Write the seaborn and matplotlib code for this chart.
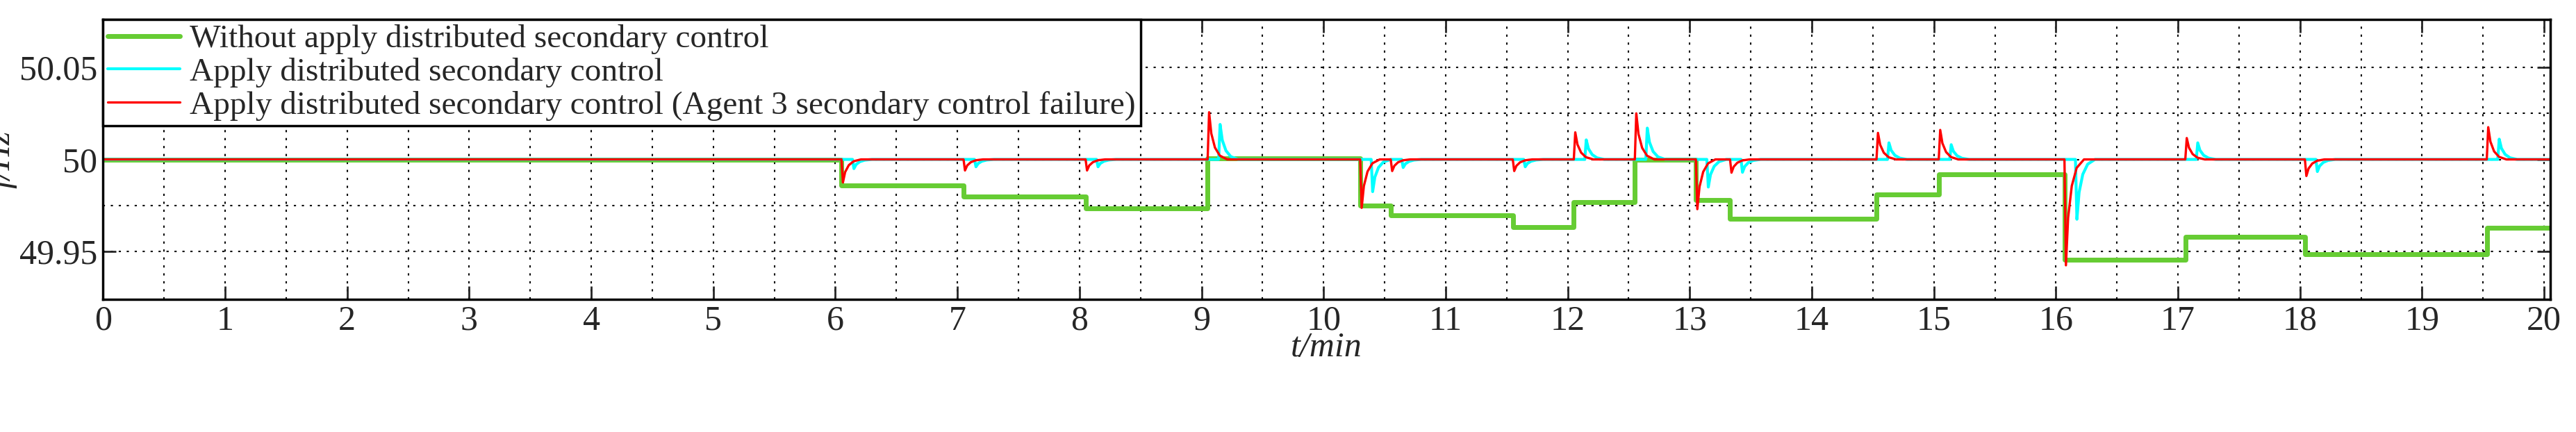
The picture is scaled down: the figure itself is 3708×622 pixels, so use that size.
import numpy as np
import pandas as pd
import matplotlib
matplotlib.use("Agg")
import matplotlib.pyplot as plt
import seaborn as sns
from matplotlib.ticker import MultipleLocator, FixedLocator

# green: step levels without secondary control
step_times = [0, 6.05, 7.05, 8.05, 9.05, 10.3, 10.55, 11.55, 12.05, 12.55,
              13.05, 13.33, 14.53, 15.04, 16.07, 17.06, 18.04, 19.53, 20.05]
step_levels = [50.0, 49.986, 49.980, 49.9735, 50.0007, 49.975, 49.9697, 49.9634,
               49.977, 50.0, 49.978, 49.9678, 49.981, 49.992, 49.9456, 49.958,
               49.9484, 49.963, 49.963]

# transient events for the controlled curves
event_times = [6.05, 7.05, 8.05, 9.05, 10.3, 10.55, 11.55, 12.05, 12.55,
               13.05, 13.33, 14.53, 15.04, 16.07, 17.06, 18.04, 19.53]
red_peaks = [49.9875, 49.994, 49.994, 50.0256, 49.9737, 49.9937, 49.9937, 50.0147,
             50.025, 49.973, 49.9928, 50.0144, 50.016, 49.9425, 50.0116, 49.991, 50.0175]
cyan_peaks = [49.995, 49.996, 49.996, 50.019, 49.9825, 49.9956, 49.996, 50.0106,
              50.017, 49.985, 49.993, 50.009, 50.008, 49.9675, 50.009, 49.9934, 50.011]
cyan_delay = 0.09

# transient profile (offset in min, fraction of peak deviation)
shape_dt = [0.0, 0.012, 0.03, 0.06, 0.1, 0.16]
shape_frac = [0.0, 1.0, 0.55, 0.25, 0.08, 0.0]

base = 50.0
t_end = 20.05


def transient_curve(peaks, delay):
    xs, ys = [0.0], [base]
    for t, p in zip(event_times, peaks):
        for dt, fr in zip(shape_dt, shape_frac):
            xs.append(t + delay + dt)
            ys.append(base + (p - base) * fr)
    xs.append(t_end)
    ys.append(base)
    return pd.DataFrame({"t": xs, "f": ys})


red_df = transient_curve(red_peaks, 0.0)
cyan_df = transient_curve(cyan_peaks, cyan_delay)
green_df = pd.DataFrame({"t": step_times, "f": step_levels})

sns.set_style("white")
plt.rcParams['font.family'] = ['Liberation Serif', 'DejaVu Serif']

fig = plt.figure(figsize=(37.08, 6.22), dpi=100)
ax = fig.add_axes([0.040, 0.307, 0.950, 0.648])

sns.lineplot(data=green_df, x="t", y="f", ax=ax, color="#66cc33", linewidth=5,
             drawstyle="steps-post", estimator=None, sort=False,
             label="Without apply distributed secondary control")
sns.lineplot(data=cyan_df, x="t", y="f", ax=ax, color="#00ffff", linewidth=3,
             estimator=None, sort=False, label="Apply distributed secondary control")
sns.lineplot(data=red_df, x="t", y="f", ax=ax, color="#ff0000", linewidth=2.4,
             estimator=None, sort=False,
             label="Apply distributed secondary control (Agent 3 secondary control failure)")

ax.set_xlim(0, t_end)
ax.set_ylim(49.924, 50.076)
ax.xaxis.set_major_locator(MultipleLocator(1))
ax.xaxis.set_minor_locator(MultipleLocator(0.5))
ax.yaxis.set_major_locator(FixedLocator([49.95, 50.0, 50.05]))
ax.yaxis.set_minor_locator(FixedLocator([49.975, 50.025]))
ax.set_yticklabels(["49.95", "50", "50.05"])
ax.grid(which="both", color="black", linestyle=(0, (1.5, 4)), linewidth=1.5)
ax.tick_params(which="both", direction="in", length=14, width=2, labelsize=36,
               left=True, bottom=True, right=True, top=True, pad=6)
ax.tick_params(which="minor", length=0)
for s in ax.spines.values():
    s.set_color("black")
    s.set_linewidth(2.5)

ax.set_xlabel("t/min", fontsize=36, style="italic", labelpad=-6)
ax.set_ylabel("f/Hz", fontsize=36, style="italic", labelpad=2)

leg = ax.legend(loc="upper left", fontsize=34, frameon=True, fancybox=False,
                framealpha=1, edgecolor="black", borderaxespad=0, handlelength=2.2,
                borderpad=0.15, labelspacing=0.1, handletextpad=0.3)
leg.get_frame().set_linewidth(2.5)

fig.savefig("out.png", dpi=100)
